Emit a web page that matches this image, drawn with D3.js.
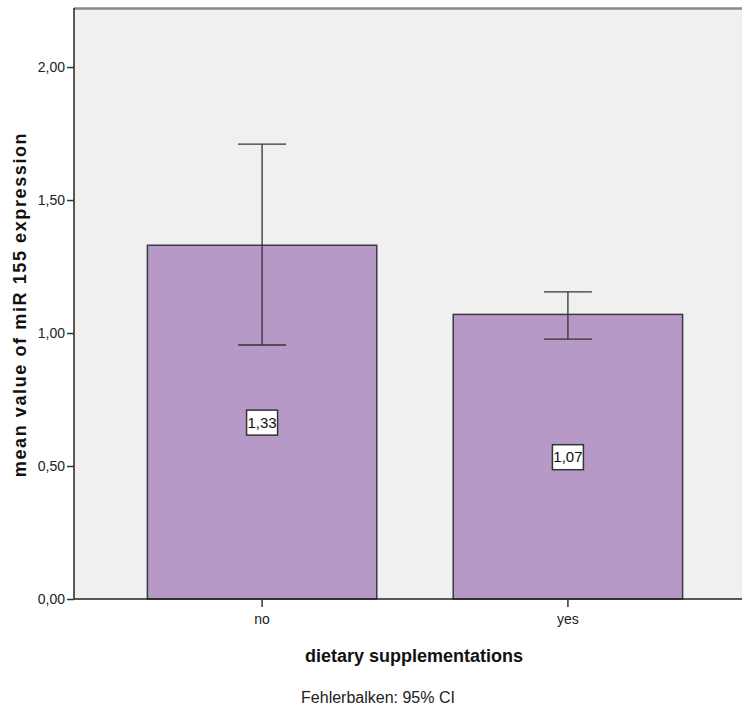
<!DOCTYPE html>
<html>
<head>
<meta charset="utf-8">
<script src="https://d3js.org/d3.v7.min.js"></script>
<style>
  body { margin: 0; background: #fff; }
  svg { display: block; }
</style>
</head>
<body>
<div id="chart"></div>
<script>
// Data ----------------------------------------------------------------------->
const categories = ['no', 'yes'];
const means = [1.33, 1.07];
const ci_low = [0.955, 0.977];
const ci_high = [1.71, 1.155];
const mean_labels = ['1,33', '1,07'];
const y_ticks = [0, 0.5, 1.0, 1.5, 2.0];

// Setup ---------------------------------------------------------------------->
const width = 742, height = 709;
const plot = {left: 74, right: 756, top: 8, bottom: 599};
const narrow = '"Liberation Sans Narrow", "Arial Narrow", "Liberation Sans", Arial, sans-serif';
const bold_font = '"Liberation Sans", Arial, sans-serif';

const svg = d3.select('#chart')
  .append('svg')
    .attr('width', width)
    .attr('height', height);

const x = d3.scaleBand()
  .domain(categories)
  .range([plot.left, plot.right])
  .paddingInner(0.25)
  .paddingOuter(0.24);

const y = d3.scaleLinear()
  .domain([0, 2.222])
  .range([plot.bottom, plot.top]);

// Plot background
svg.append('rect')
  .attr('x', plot.left)
  .attr('y', plot.top)
  .attr('width', plot.right - plot.left)
  .attr('height', plot.bottom - plot.top)
  .attr('fill', '#f0f0f0');

// top frame line
svg.append('line')
  .attr('x1', plot.left).attr('x2', plot.right)
  .attr('y1', plot.top + 0.5).attr('y2', plot.top + 0.5)
  .attr('stroke', '#8a8a8a')
  .attr('stroke-width', 2.5);

// Bars
const idx = d3.range(categories.length);
svg.append('g')
  .selectAll('rect')
  .data(idx)
  .join('rect')
    .attr('x', i => x(categories[i]))
    .attr('y', i => y(means[i]))
    .attr('width', x.bandwidth())
    .attr('height', i => y(0) - y(means[i]))
    .attr('fill', '#b799c8')
    .attr('stroke', '#3a3a3a')
    .attr('stroke-width', 1.5);

// Error bars
const cap = 24;
const err = svg.append('g')
    .attr('stroke', '#333')
    .attr('stroke-width', 1.3);
err.selectAll('line.stem')
  .data(idx)
  .join('line')
    .attr('class', 'stem')
    .attr('x1', i => x(categories[i]) + x.bandwidth() / 2)
    .attr('x2', i => x(categories[i]) + x.bandwidth() / 2)
    .attr('y1', i => y(ci_low[i]))
    .attr('y2', i => y(ci_high[i]));
err.selectAll('line.hi')
  .data(idx)
  .join('line')
    .attr('class', 'hi')
    .attr('x1', i => x(categories[i]) + x.bandwidth() / 2 - cap)
    .attr('x2', i => x(categories[i]) + x.bandwidth() / 2 + cap)
    .attr('y1', i => y(ci_high[i]))
    .attr('y2', i => y(ci_high[i]));
err.selectAll('line.lo')
  .data(idx)
  .join('line')
    .attr('class', 'lo')
    .attr('x1', i => x(categories[i]) + x.bandwidth() / 2 - cap)
    .attr('x2', i => x(categories[i]) + x.bandwidth() / 2 + cap)
    .attr('y1', i => y(ci_low[i]))
    .attr('y2', i => y(ci_low[i]));

// Value labels in boxes
const lab = svg.append('g')
  .selectAll('g')
  .data(idx)
  .join('g')
    .attr('transform', i =>
      `translate(${x(categories[i]) + x.bandwidth() / 2},${y(means[i] / 2)})`);
lab.append('rect')
  .attr('x', -15.5).attr('y', -12)
  .attr('width', 31).attr('height', 25)
  .attr('fill', '#fff')
  .attr('stroke', '#333')
  .attr('stroke-width', 1.5);
lab.append('text')
  .attr('text-anchor', 'middle')
  .attr('dy', '0.36em')
  .style('font', '15px ' + narrow)
  .attr('fill', '#111')
  .text(i => mean_labels[i]);

// Axes
const y_axis = svg.append('g')
  .attr('transform', `translate(${plot.left},0)`)
  .call(d3.axisLeft(y)
    .tickValues(y_ticks)
    .tickSize(7)
    .tickPadding(2)
    .tickFormat(d => d3.format('.2f')(d).replace('.', ',')));
y_axis.select('.domain')
  .attr('d', `M0,${plot.top}V${plot.bottom}`)
  .attr('stroke', '#222')
  .attr('stroke-width', 1.5);
y_axis.selectAll('.tick line').attr('stroke', '#333').attr('stroke-width', 1.5);
y_axis.selectAll('.tick text')
  .style('font', '14px ' + narrow)
  .attr('fill', '#222');

const x_axis = svg.append('g')
  .attr('transform', `translate(0,${plot.bottom})`)
  .call(d3.axisBottom(x).tickSize(8).tickPadding(7));
x_axis.select('.domain')
  .attr('d', `M${plot.left},0H${plot.right}`)
  .attr('stroke', '#222')
  .attr('stroke-width', 1.5);
x_axis.selectAll('.tick line').attr('stroke', '#333').attr('stroke-width', 1.5);
x_axis.selectAll('.tick text')
  .style('font', '14px ' + narrow)
  .attr('fill', '#222');

// Titles
svg.append('text')
  .attr('transform', `translate(26,${(plot.top + plot.bottom) / 2 + 1}) rotate(-90)`)
  .attr('text-anchor', 'middle')
  .style('font', 'bold 18px ' + bold_font)
  .style('letter-spacing', '1.6px')
  .attr('fill', '#111')
  .text('mean value of miR 155 expression');

svg.append('text')
  .attr('x', 414)
  .attr('y', 662)
  .attr('text-anchor', 'middle')
  .style('font', 'bold 18px ' + bold_font)
  .attr('fill', '#111')
  .text('dietary supplementations');

svg.append('text')
  .attr('x', 378)
  .attr('y', 703)
  .attr('text-anchor', 'middle')
  .style('font', '16px ' + narrow)
  .attr('fill', '#222')
  .text('Fehlerbalken: 95% CI');
</script>
</body>
</html>
